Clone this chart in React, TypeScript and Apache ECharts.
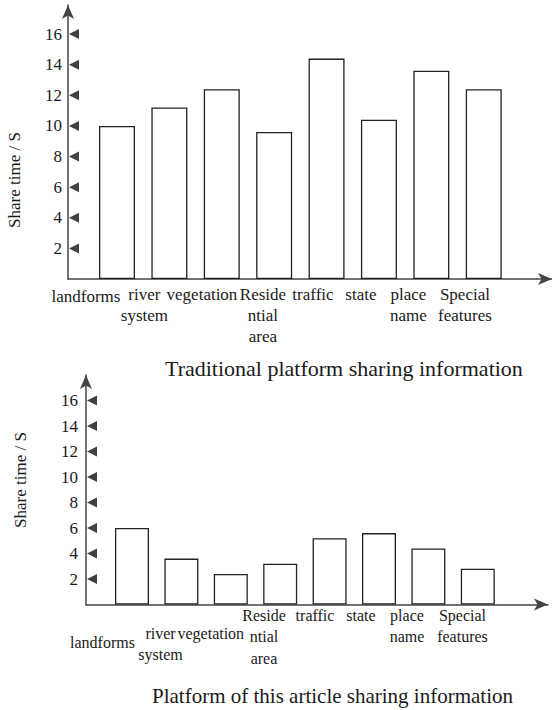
import { useEffect, useRef } from 'react';
import * as echarts from 'echarts';

// ---- data ----
const CATEGORIES = [
  'landforms',
  'river\nsystem',
  'vegetation',
  'Reside\nntial\narea',
  'traffic',
  'state',
  'place\nname',
  'Special\nfeatures',
];
const TRADITIONAL = [10.0, 11.2, 12.4, 9.6, 14.4, 10.4, 13.6, 12.4];
const THIS_ARTICLE = [6.0, 3.6, 2.4, 3.2, 5.2, 5.6, 4.4, 2.8];
const Y_TICKS = [2, 4, 6, 8, 10, 12, 14, 16];
const TITLES = [
  'Traditional platform sharing information',
  'Platform of this article sharing information',
];
const Y_NAME = 'Share time / S';

// ---- layout / style ----
const FONT = 'Liberation Serif, serif';
const TEXT = '#1a1a1a';
const AXIS = '#444';
// horizontal label nudges relative to bar centres (px, negative = left)
const NUDGE_X = [
  [-31, -25, -19.8, -11.2, -13.6, -18, -22.9, -18.8],
  [-29.5, -20.9, -20, -16.2, -14.6, -18, -21.4, -15.3],
];
// vertical nudges of the label block (px, down)
const NUDGE_Y = [
  [2, 0, 0, 0, 0, 0, 0, 0],
  [27, 18, 18, 0, 0, 0, 0, 0],
];
const PANELS = [
  { left: 68, top: 5, width: 484, height: 274, xMin: 0.065, xMax: 9.303, yMax: 17.9, xMargin: 5, yMargin: 6, lh: 21, xFont: 17, barW: 36, nameX: 14.5, nameY: 180, titleLeft: 165, titleTop: 357, titleSize: 22 },
  { left: 86, top: 375, width: 462, height: 229.5, xMin: 0.069, xMax: 9.421, yMax: 18.0, xMargin: 0, yMargin: 8, lh: 21.5, xFont: 16, barW: 34, nameX: 20, nameY: 480, titleLeft: 152, titleTop: 685, titleSize: 21 },
];

function labelValues(c: number) {
  const p = PANELS[c];
  const pxu = p.width / (p.xMax - p.xMin);
  return CATEGORIES.map((_, i) => i + 1 + NUDGE_X[c][i] / pxu);
}

function buildRich(c: number) {
  const rich: Record<string, any> = {};
  const p = PANELS[c];
  rich.t = {
    fontFamily: FONT,
    fontSize: p.xFont,
    lineHeight: p.lh,
    color: TEXT,
    align: 'center',
  };
  CATEGORIES.forEach((_, i) => {
    const dy = NUDGE_Y[c][i];
    if (dy > 0) {
      rich[`g${i}`] = { fontSize: 1, lineHeight: dy, height: dy, align: 'center' };
    }
  });
  return rich;
}

function makeFormatter(c: number) {
  const lv = labelValues(c);
  return (v: number) => {
    let best = 0;
    lv.forEach((x, i) => {
      if (Math.abs(x - v) < Math.abs(lv[best] - v)) best = i;
    });
    const body = CATEGORIES[best]
      .split('\n')
      .map((line) => `{t|${line}}`)
      .join('\n');
    return NUDGE_Y[c][best] > 0 ? `{g${best}| }\n${body}` : body;
  };
}

export default function App() {
  const ref = useRef<HTMLDivElement>(null);

  useEffect(() => {
    document.body.style.margin = '0';
    if (!ref.current) return;
    const chart = echarts.init(ref.current, undefined, { renderer: 'svg' });

    const axisLine = {
      show: true,
      onZero: false,
      symbol: ['none', 'arrow'],
      symbolSize: [9, 14],
      lineStyle: { color: AXIS, width: 1.5 },
    };

    const option: any = {
      animation: false,
      backgroundColor: '#fff',
      textStyle: { fontFamily: FONT },
      title: TITLES.map((t, c) => ({
        text: t,
        left: PANELS[c].titleLeft,
        top: PANELS[c].titleTop,
        padding: 0,
        textStyle: { fontFamily: FONT, fontSize: PANELS[c].titleSize, fontWeight: 'normal', color: TEXT },
      })),
      grid: PANELS.map((p) => ({ left: p.left, top: p.top, width: p.width, height: p.height })),
      xAxis: [
        ...PANELS.map((p, c) => ({
          type: 'value',
          gridIndex: c,
          min: p.xMin,
          max: p.xMax,
          axisLine,
          axisTick: { show: false },
          splitLine: { show: false },
          axisLabel: {
            customValues: labelValues(c),
            showMinLabel: true,
            showMaxLabel: true,
            hideOverlap: false,
            margin: p.xMargin,
            formatter: makeFormatter(c),
            rich: buildRich(c),
            fontFamily: FONT,
            fontSize: p.xFont,
            color: TEXT,
          },
        })),
        ...PANELS.map((_, c) => ({ type: 'value', gridIndex: c, min: 0, max: 1, show: false })),
      ],
      yAxis: PANELS.map((p, c) => ({
        type: 'value',
        gridIndex: c,
        min: 0,
        max: p.yMax,
        axisLine,
        axisTick: { show: false },
        splitLine: { show: false },
        axisLabel: {
          customValues: Y_TICKS,
          showMinLabel: true,
          showMaxLabel: true,
          margin: p.yMargin,
          fontFamily: FONT,
          fontSize: 17,
          color: TEXT,
        },
      })),
      series: [
        ...[TRADITIONAL, THIS_ARTICLE].map((vals, c) => ({
          type: 'bar',
          xAxisIndex: c,
          yAxisIndex: c,
          barWidth: PANELS[c].barW,
          data: vals.map((v, i) => [i + 1, v]),
          itemStyle: { color: '#fff', borderColor: '#222', borderWidth: 1.3 },
          silent: true,
        })),
        ...PANELS.map((_, c) => ({
          type: 'scatter',
          xAxisIndex: 2 + c,
          yAxisIndex: c,
          data: Y_TICKS.map((v) => [0, v]),
          symbol: 'path://M0,5L10,0L10,10Z',
          symbolSize: [10, 10],
          symbolOffset: [6, 0],
          itemStyle: { color: '#111' },
          clip: false,
          silent: true,
          z: 5,
        })),
      ],
      graphic: PANELS.map((p) => ({
        type: 'text',
        x: p.nameX,
        y: p.nameY,
        rotation: Math.PI / 2,
        style: {
          text: Y_NAME,
          fill: TEXT,
          fontFamily: FONT,
          fontSize: 17,
          align: 'center',
          verticalAlign: 'middle',
        },
      })),
    };

    chart.setOption(option);
    return () => chart.dispose();
  }, []);

  return <div ref={ref} style={{ width: 552, height: 710 }} />;
}
